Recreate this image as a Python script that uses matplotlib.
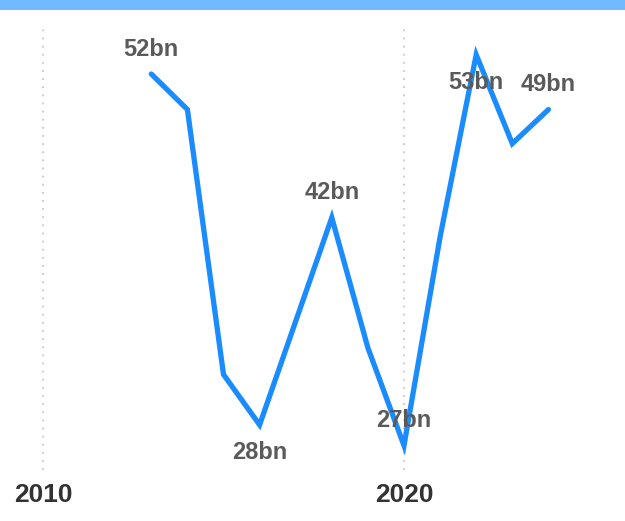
import matplotlib
matplotlib.use("Agg")
import matplotlib.pyplot as plt
from matplotlib.patches import Rectangle

years = [2013, 2014, 2015, 2016, 2017, 2018, 2019, 2020, 2021, 2022, 2023, 2024]
values = [51.7, 49.3, 31.4, 28.0, 35.0, 42.0, 33.2, 26.6, 40.7, 53.0, 47.0, 49.3]
label_years = [2013, 2016, 2018, 2020, 2022, 2024]
label_texts = ["52bn", "28bn", "42bn", "27bn", "53bn", "49bn"]
label_offsets = [18, -20, 18, 18, -20, 18]  # points, vertical
tick_years = [2010, 2020]
tick_labels = ["2010", "2020"]

W, H = 625, 521
fig = plt.figure(figsize=(W / 100, H / 100), dpi=100)
fig.patch.set_facecolor("white")
ax = fig.add_axes([0, 1 - 470 / H, 1, (470 - 29) / H])
ax.set_facecolor("none")

x0 = 2010 - 43 / 36.1
x1 = 2010 + (625 - 43) / 36.1
ax.set_xlim(x0, x1)
ax.set_ylim(24.95, 54.74)

for t in tick_years:
    ax.axvline(t, color="#c8c8c8", lw=1.3, ls=(0, (1, 3.5)), zorder=1)

ax.plot(years, values, color="#1a8cff", lw=3.8, solid_joinstyle="miter",
        solid_capstyle="round", zorder=3)

for yr, txt, off in zip(label_years, label_texts, label_offsets):
    v = values[years.index(yr)]
    ax.annotate(txt, (yr, v), xytext=(0, off), textcoords="offset points",
                ha="center", va="center", fontsize=17, fontweight="bold",
                color="#5a5a5a", family="Liberation Sans", zorder=4,
                annotation_clip=False)

ax.set_xticks(tick_years)
ax.set_xticklabels(tick_labels, fontsize=19, fontweight="bold", color="#333333",
                   family="Liberation Sans")
ax.tick_params(axis="x", length=0, pad=9)
ax.set_yticks([])
for s in ax.spines.values():
    s.set_visible(False)

fig.add_artist(Rectangle((0, 1 - 10 / H), 1, 10 / H, transform=fig.transFigure,
                         color="#72baff", lw=0))

fig.savefig("out.png", dpi=100)
